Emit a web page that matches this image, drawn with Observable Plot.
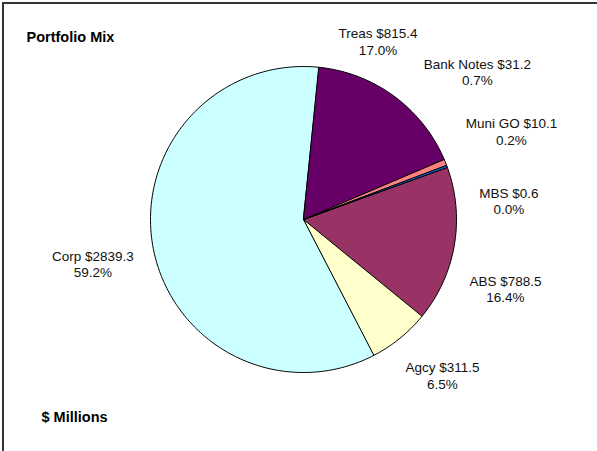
<!DOCTYPE html>
<html>
<head>
<meta charset="utf-8">
<script src="https://cdn.jsdelivr.net/npm/d3@7"></script>
<script src="https://cdn.jsdelivr.net/npm/@observablehq/plot@0.6"></script>
<style>
  html, body { margin: 0; padding: 0; background: #fff; }
  #wrap { position: relative; width: 597px; height: 451px; overflow: hidden; }
  #border { position: absolute; left: 2px; top: 2px; width: 610px; height: 460px;
            border-top: 2px solid #333; border-left: 2px solid #333; pointer-events: none; }
</style>
</head>
<body>
<div id="wrap"><div id="border"></div></div>
<script>
// Data (order as in the source workbook; drawn clockwise)
const names  = ["MBS", "ABS", "Agcy", "Corp", "Treas", "Bank Notes", "Muni GO"];
const values = [0.6, 788.5, 311.5, 2839.3, 815.4, 31.2, 10.1];
const colors = ["#9999FF", "#993366", "#FFFFCC", "#CCFFFF", "#660066", "#FF8080", "#0066CC"];

// Layout (not data)
const firstSliceAngle = 70; // degrees clockwise from 12 o'clock
// label anchor (baseline of last line), in pie-radius units
const labelX = [1.343, 1.320, 0.908, -1.376, 0.487, 1.137, 1.359];
const labelY = [0.033, -0.541, -1.107, -0.377, 1.078, 0.876, 0.490];

const total = d3.sum(values);
const slicePts = [];
let acc = 0;
names.forEach((name, i) => {
  const a0 = firstSliceAngle + acc / total * 360;
  const a1 = a0 + values[i] / total * 360;
  acc += values[i];
  slicePts.push({name, x: 0, y: 0});
  const n = Math.max(2, Math.ceil(a1 - a0) + 1);
  for (let k = 0; k < n; ++k) {
    const a = (a0 + (a1 - a0) * k / (n - 1)) * Math.PI / 180;
    slicePts.push({name, x: Math.sin(a), y: Math.cos(a)});
  }
});

const labels = names.map((name, i) => ({
  x: labelX[i], y: labelY[i],
  text: `${name} $${values[i].toFixed(1)}\n${(values[i] / total * 100).toFixed(1)}%`
}));

const chart = Plot.plot({
  width: 597,
  height: 451,
  margin: 0,
  x: {domain: [-1, 1], range: [150, 456], axis: null},
  y: {domain: [-1, 1], range: [372, 66], axis: null},
  color: {domain: names, range: colors},
  style: {fontFamily: "Arial, 'Liberation Sans', sans-serif", fontSize: "13px", background: "transparent", color: "#111"},
  marks: [
    Plot.line(slicePts, {x: "x", y: "y", z: "name", fill: "name", stroke: "#000", strokeWidth: 1, curve: "linear-closed", strokeLinejoin: "round"}),
    Plot.text(labels, {x: "x", y: "y", text: "text", fontSize: 13.5, lineAnchor: "bottom", lineHeight: 1.23, fill: "#111"}),
    Plot.text(["Portfolio Mix"], {frameAnchor: "top-left", textAnchor: "start", lineAnchor: "bottom", dx: 26, dy: 41, fontSize: 14.5, fontWeight: "bold", fill: "#000"}),
    Plot.text(["$ Millions"], {frameAnchor: "top-left", textAnchor: "start", lineAnchor: "bottom", dx: 41, dy: 421, fontSize: 14.5, fontWeight: "bold", fill: "#000"})
  ]
});
chart.style.position = "absolute";
chart.style.left = "0";
chart.style.top = "0";
document.getElementById("wrap").prepend(chart);
</script>
</body>
</html>
